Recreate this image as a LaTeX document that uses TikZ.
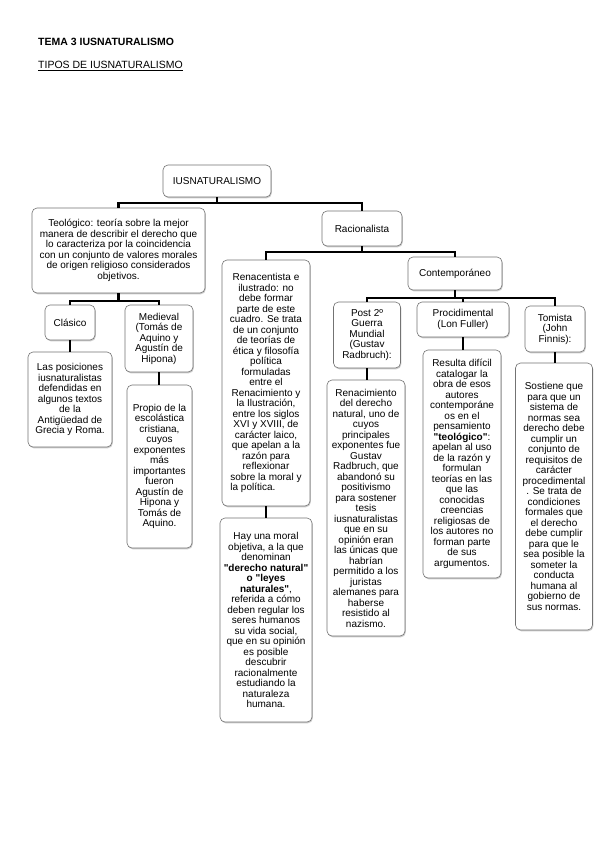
\documentclass[tikz,border=0pt]{standalone}
\usepackage{fontspec}
\usepackage{calc}
\setmainfont{Liberation Sans}
\usetikzlibrary{shadows}
\newcommand{\sq}{\textquotedbl}
\tikzset{
  box/.style={draw=black!55, line width=0.6pt, rounded corners=5pt, fill=white,
    align=center, inner sep=1pt, font=\fontsize{10}{10.5}\selectfont,
    drop shadow={shadow xshift=0.8pt, shadow yshift=-1.3pt, fill=black!40}},
  conn/.style={line width=2.2pt, black},
  head/.style={anchor=base west, inner sep=0pt, font=\fontsize{10.5}{12}\selectfont}
}
\begin{document}
\begin{tikzpicture}[x=1pt,y=-1pt]
\useasboundingbox (0,0) rectangle (599,848);
\fill[white] (0,0) rectangle (599,848);

\node[head] (tema) at (38,46) {\textbf{TEMA 3 IUSNATURALISMO}};
\node[head] (tipos) at (38,68.5) {\underline{TIPOS DE IUSNATURALISMO}};

% bars
\coordinate (b1) at (0,203);
\coordinate (b2) at (0,252);
\coordinate (b3) at (0,301);
\coordinate (b4) at (0,298);

% level 1
\node[box, minimum width=108pt, minimum height=32pt] (ius) at (217,181) {IUSNATURALISMO};
% level 2
\node[box, minimum width=173pt, minimum height=85pt] (teo) at (118.5,250.5)
 {Teológico: teoría sobre la mejor\\manera de describir el derecho que\\lo caracteriza por la coincidencia\\con un conjunto de valores morales\\de origen religioso considerados\\objetivos.};
\node[box, minimum width=80pt, minimum height=35pt] (rac) at (362,228.5) {Racionalista};
% level 3
\node[box, minimum width=50pt, minimum height=35pt] (cla) at (70,322.5) {Clásico};
\node[box, minimum width=68pt, minimum height=67pt] (med) at (159,338.5) {Medieval\\(Tomás de\\Aquino y\\Agustín de\\Hipona)};
\node[box, minimum width=88pt, minimum height=246pt] (ren) at (266,383)
 {Renacentista e\\ilustrado: no\\debe formar\\parte de este\\cuadro. Se trata\\de un conjunto\\de teorías de\\ética y filosofía\\política\\formuladas\\entre el\\Renacimiento y\\la Ilustración,\\entre los siglos\\XVI y XVIII, de\\carácter laico,\\que apelan a la\\razón para\\reflexionar\\sobre la moral y\\\makebox[\widthof{sobre la moral y}][l]{la política.}};
\node[box, minimum width=94pt, minimum height=33pt] (con) at (455,273.5) {Contemporáneo};
% level 4
\node[box, minimum width=67pt, minimum height=66pt] (post) at (367,335) {Post 2º\\Guerra\\Mundial\\(Gustav\\Radbruch):};
\node[box, minimum width=92pt, minimum height=35pt] (proc) at (463,319.5) {Procidimental\\(Lon Fuller)};
\node[box, minimum width=60pt, minimum height=46pt] (tom) at (555,329) {Tomista\\(John\\Finnis):};

% descriptions
\node[box, minimum width=84pt, minimum height=95pt] (clad) at (70,399.5)
 {Las posiciones\\iusnaturalistas\\defendidas en\\algunos textos\\de la\\Antigüedad de\\Grecia y Roma.};
\node[box, minimum width=65pt, minimum height=163pt] (medd) at (159.5,466.5)
 {Propio de la\\escolástica\\cristiana,\\cuyos\\exponentes\\más\\importantes\\fueron\\Agustín de\\Hipona y\\Tomás de\\Aquino.};
\node[box, minimum width=92pt, minimum height=204pt] (rend) at (266,620)
 {Hay una moral\\objetiva, a la que\\denominan\\\textbf{\sq derecho natural\sq}\\\textbf{o \sq leyes}\\\textbf{naturales\sq},\\referida a cómo\\deben regular los\\seres humanos\\su vida social,\\que en su opinión\\es posible\\descubrir\\racionalmente\\estudiando la\\naturaleza\\humana.};
\node[box, minimum width=78pt, minimum height=256pt] (postd) at (366,508)
 {Renacimiento\\del derecho\\natural, uno de\\cuyos\\principales\\exponentes fue\\Gustav\\Radbruch, que\\abandonó su\\positivismo\\para sostener\\tesis\\iusnaturalistas\\que en su\\opinión eran\\las únicas que\\habrían\\permitido a los\\juristas\\alemanes para\\haberse\\resistido al\\nazismo.};
\node[box, minimum width=78pt, minimum height=228pt] (procd) at (462,464)
 {Resulta difícil\\catalogar la\\obra de esos\\autores\\contemporáne\\os en el\\pensamiento\\\textbf{\sq teológico\sq}:\\apelan al uso\\de la razón y\\formulan\\teorías en las\\que las\\conocidas\\creencias\\religiosas de\\los autores no\\forman parte\\de sus\\argumentos.};
\node[box, minimum width=77pt, minimum height=267pt] (tomd) at (554,496.5)
 {Sostiene que\\para que un\\sistema de\\normas sea\\derecho debe\\cumplir un\\conjunto de\\requisitos de\\carácter\\procedimental\\. Se trata de\\condiciones\\formales que\\el derecho\\debe cumplir\\para que le\\sea posible la\\someter la\\conducta\\humana al\\gobierno de\\sus normas.};

% connectors
\draw[conn] (ius.south) -- (ius.south |- b1);
\draw[conn] (teo.north) -- (teo.north |- b1) -- (rac.north |- b1) -- (rac.north);
\draw[conn] (teo.south) -- (teo.south |- b3);
\draw[conn] (cla.north) -- (cla.north |- b3) -- (med.north |- b3) -- (med.north);
\draw[conn] (rac.south) -- (rac.south |- b2);
\draw[conn] (ren.north) -- (ren.north |- b2) -- (con.north |- b2) -- (con.north);
\draw[conn] (con.south) -- (con.south |- b4);
\draw[conn] (post.north) -- (post.north |- b4) -- (tom.north |- b4) -- (tom.north);
\draw[conn] (proc.north) -- (proc.north |- b4);
\draw[conn] (cla.south) -- (cla.south |- clad.north);
\draw[conn] (med.south) -- (med.south |- medd.north);
\draw[conn] (ren.south) -- (ren.south |- rend.north);
\draw[conn] (post.south) -- (post.south |- postd.north);
\draw[conn] (proc.south) -- (proc.south |- procd.north);
\draw[conn] (tom.south) -- (tom.south |- tomd.north);
\end{tikzpicture}
\end{document}
